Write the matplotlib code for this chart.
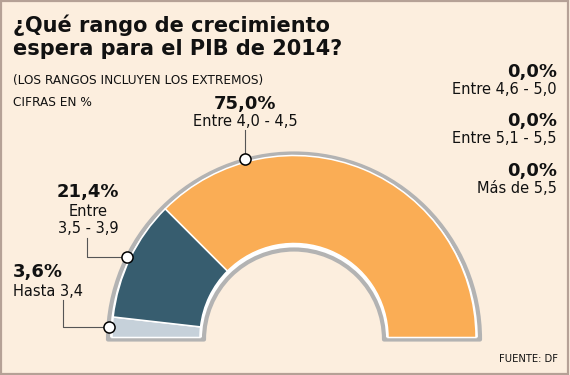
import matplotlib.pyplot as plt
from matplotlib.patches import Wedge, Rectangle
import numpy as np

# datos
rangos = ['Hasta 3,4', 'Entre\n3,5 - 3,9', 'Entre 4,0 - 4,5',
          'Entre 4,6 - 5,0', 'Entre 5,1 - 5,5', 'Más de 5,5']
porcentajes = [3.6, 21.4, 75.0, 0.0, 0.0, 0.0]
etiquetas_pct = ['3,6%', '21,4%', '75,0%', '0,0%', '0,0%', '0,0%']
colores = ['#C6D1DA', '#375D6F', '#FAAD55', '#FAAD55', '#FAAD55', '#FAAD55']

fondo = '#FCEEDE'
plt.rcParams['font.family'] = ['DejaVu Sans']

fig = plt.figure(figsize=(5.7, 3.75), dpi=100, facecolor=fondo)
ax = fig.add_axes([0, 0, 1, 1])
ax.set_facecolor(fondo)

cx, cy = 294, 337.5
r_ext, ancho = 182, 88

# contorno gris del semicirculo
ax.add_patch(Wedge((cx, cy + 2), 186, 180, 360, width=96, facecolor='white',
                   edgecolor='#B3B3B3', linewidth=3.0, joinstyle='round'))

# semicirculo: la mitad inferior es un sector oculto
vals = [v for v in porcentajes if v > 0]
cols = [c for v, c in zip(porcentajes, colores) if v > 0]
wedges, _ = ax.pie(vals + [sum(vals)], colors=cols + ['none'], radius=r_ext,
                   center=(cx, cy), startangle=180, counterclock=True,
                   wedgeprops=dict(width=ancho, edgecolor='white', linewidth=1.1))
wedges[-1].set_visible(False)

ax.set_xlim(0, 570)
ax.set_ylim(375, 0)
ax.set_aspect('auto')
ax.axis('off')

# puntos sobre el borde
total = sum(porcentajes)
inicio = np.cumsum([0] + porcentajes[:-1]) / total
fraccion = [0.5, 0.5, 0.22]
puntos = []
for i in range(3):
    ang = np.radians(180 + 180 * (inicio[i] + fraccion[i] * porcentajes[i] / total))
    puntos.append((cx + 185 * np.cos(ang), cy + 185 * np.sin(ang)))

# lineas guia
lc = '#555555'
p = puntos[0]
ax.plot([p[0], 63, 63], [p[1], p[1], 300], color=lc, lw=0.8)
p = puntos[1]
ax.plot([p[0], 87, 87], [p[1], p[1], 238], color=lc, lw=0.8)
p = puntos[2]
ax.plot([p[0], p[0]], [p[1], 130], color=lc, lw=0.8)
for p in puntos:
    ax.plot(p[0], p[1], 'o', ms=8, mfc='white', mec='black', mew=1.1)

# titulo
tc = '#111111'
ax.text(13, 32, '¿Qué rango de crecimiento', fontsize=15, fontweight='bold', color=tc, va='baseline')
ax.text(13, 55, 'espera para el PIB de 2014?', fontsize=15, fontweight='bold', color=tc, va='baseline')
ax.text(13, 84, '(LOS RANGOS INCLUYEN LOS EXTREMOS)', fontsize=8.7, color=tc, va='baseline')
ax.text(13, 106, 'CIFRAS EN %', fontsize=8.7, color=tc, va='baseline')

# etiquetas
ax.text(13, 277.3, etiquetas_pct[0], fontsize=13, fontweight='bold', color=tc, va='baseline')
ax.text(13, 295.7, rangos[0], fontsize=10.5, color=tc, va='baseline')

ax.text(88, 197.3, etiquetas_pct[1], fontsize=13, fontweight='bold', color=tc, va='baseline', ha='center')
ax.text(88, 232.7, rangos[1], fontsize=10.5, color=tc, va='baseline', ha='center',
        multialignment='center', linespacing=1.15)

ax.text(245, 109.5, etiquetas_pct[2], fontsize=13, fontweight='bold', color=tc, va='baseline', ha='center')
ax.text(245, 125.5, rangos[2], fontsize=10.5, color=tc, va='baseline', ha='center')

for i, yb in zip(range(3, 6), [76.7, 126, 176]):
    ax.text(557, yb, etiquetas_pct[i], fontsize=13, fontweight='bold', color=tc, va='baseline', ha='right')
    ax.text(557, yb + 17, rangos[i], fontsize=10.5, color=tc, va='baseline', ha='right')

ax.text(558, 361.7, 'FUENTE: DF', fontsize=7.2, color=tc, va='baseline', ha='right')

# marco
ax.add_patch(Rectangle((0.002, 0.003), 0.995, 0.994, transform=ax.transAxes, fill=False,
                       edgecolor='#B5A196', linewidth=1.6, clip_on=False))

plt.savefig('out.png', dpi=100, facecolor=fondo)
